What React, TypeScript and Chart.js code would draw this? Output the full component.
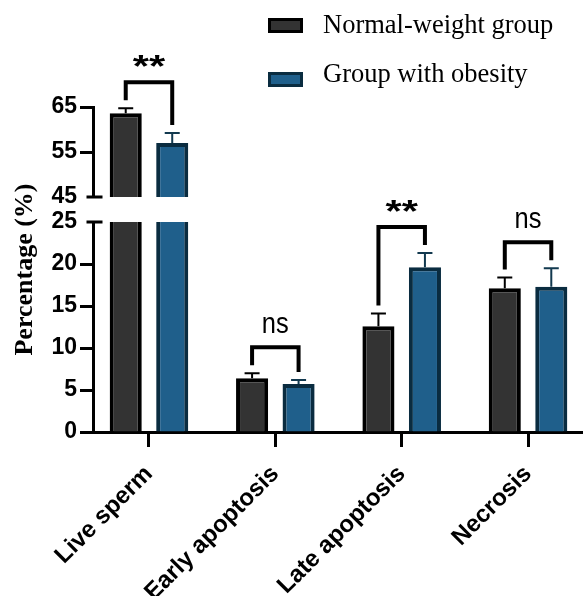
import React, { useEffect, useRef } from 'react';
import { Chart, registerables } from 'chart.js';

Chart.register(...registerables);

// ---------------- data ----------------
const categories = ['Live sperm', 'Early apoptosis', 'Late apoptosis', 'Necrosis'];
const seriesNames = ['Normal-weight group', 'Group with obesity'];
const normalMean = [63.6, 6.4, 12.6, 17.1];
const normalSd = [1.1, 0.6, 1.5, 1.3];
const obeseMean = [57.0, 5.7, 19.6, 17.3];
const obeseSd = [2.2, 0.5, 1.7, 2.2];
const significance = ['**', 'ns', '**', 'ns'];
const lowerRange = [0, 25];
const upperRange = [45, 65];
const lowerStep = 5;
const upperStep = 10;

// ---------------- styles ----------------
const FILL = ['#333333', '#1f5f8b'];
const BORDER = ['#000000', '#0a2c40'];
const ERR = ['#000000', '#12394f'];
const SANS = "'Liberation Sans', Arial, sans-serif";
const SERIF = "'Liberation Serif', 'Times New Roman', serif";
const W = 583;
const H = 596;
const AXIS_X = 93;
const AXIS_BOTTOM = 432;
const PLOT_TOP = 107;

const means = [normalMean, obeseMean];
const sds = [normalSd, obeseSd];
const stacks = ['n', 'o'];

const overlayPlugin = {
  id: 'overlay',
  afterDatasetsDraw(chart: any) {
    const ctx = chart.ctx as CanvasRenderingContext2D;
    const yLow = chart.scales.yLow;
    const yHigh = chart.scales.yHigh;
    const pix = (v: number) => (v > lowerRange[1] ? yHigh.getPixelForValue(v) : yLow.getPixelForValue(v));
    const metas = [chart.getDatasetMeta(0), chart.getDatasetMeta(1)];

    // error bars
    ctx.save();
    ctx.lineWidth = 2;
    for (let g = 0; g < 2; g++) {
      for (let i = 0; i < categories.length; i++) {
        const el = metas[g].data[i];
        if (!el) continue;
        const x = el.x;
        const y0 = pix(means[g][i]);
        const y1 = pix(means[g][i] + sds[g][i]);
        ctx.strokeStyle = ERR[g];
        ctx.beginPath();
        ctx.moveTo(x, y0);
        ctx.lineTo(x, y1);
        ctx.moveTo(x - 7.5, y1);
        ctx.lineTo(x + 7.5, y1);
        ctx.stroke();
      }
    }
    ctx.restore();

    // significance brackets
    ctx.save();
    for (let i = 0; i < categories.length; i++) {
      const e1 = metas[0].data[i];
      const e2 = metas[1].data[i];
      if (!e1 || !e2) continue;
      const x1 = e1.x;
      const x2 = e2.x;
      const t1 = pix(normalMean[i] + normalSd[i]);
      const t2 = pix(obeseMean[i] + obeseSd[i]);
      const h = Math.min(t1, t2) - 26;
      ctx.strokeStyle = '#000';
      ctx.lineWidth = 4;
      ctx.lineJoin = 'miter';
      ctx.lineCap = 'butt';
      ctx.beginPath();
      ctx.moveTo(x1, t1 - 8);
      ctx.lineTo(x1, h);
      ctx.lineTo(x2, h);
      ctx.lineTo(x2, t2 - 8);
      ctx.stroke();
      const cx = (x1 + x2) / 2;
      const label = significance[i];
      ctx.fillStyle = '#000';
      ctx.textAlign = 'center';
      if (label === 'ns') {
        ctx.save();
        ctx.translate(cx, h - 2 - 12);
        ctx.scale(0.85, 1);
        ctx.font = `30px ${SANS}`;
        ctx.textBaseline = 'alphabetic';
        ctx.fillText(label, 0, 0);
        ctx.restore();
      } else {
        ctx.save();
        ctx.translate(cx, h - 2 - 19);
        ctx.scale(1.3, 1);
        ctx.font = `bold 32px ${SANS}`;
        ctx.textBaseline = 'middle';
        const m = ctx.measureText(label);
        const asc = m.actualBoundingBoxAscent;
        const desc = m.actualBoundingBoxDescent;
        ctx.fillText(label, 0, (asc - desc) / 2);
        ctx.restore();
      }
    }
    ctx.restore();
  },
  afterDraw(chart: any) {
    const ctx = chart.ctx as CanvasRenderingContext2D;
    const yLow = chart.scales.yLow;
    const yHigh = chart.scales.yHigh;
    const ax = chart.chartArea.left + 1.5;

    // break caps on the y axis
    ctx.save();
    ctx.strokeStyle = '#000';
    ctx.lineWidth = 3;
    ctx.beginPath();
    const yb1 = yHigh.getPixelForValue(upperRange[0]);
    const yb2 = yLow.getPixelForValue(lowerRange[1]);
    ctx.moveTo(ax - 8, yb1);
    ctx.lineTo(ax + 8, yb1);
    ctx.moveTo(ax - 8, yb2);
    ctx.lineTo(ax + 8, yb2);
    ctx.stroke();
    ctx.restore();

    // y axis title
    ctx.save();
    ctx.translate(25, (chart.chartArea.top + chart.chartArea.bottom) / 2);
    ctx.rotate(-Math.PI / 2);
    ctx.font = `bold 26px ${SERIF}`;
    ctx.fillStyle = '#000';
    ctx.textAlign = 'center';
    ctx.textBaseline = 'middle';
    ctx.fillText('Percentage (%)', 0, 0);
    ctx.restore();

    // legend
    ctx.save();
    const rows = [18, 72];
    for (let g = 0; g < 2; g++) {
      const y = rows[g];
      ctx.fillStyle = BORDER[g];
      ctx.fillRect(268, y, 35, 15);
      ctx.fillStyle = FILL[g];
      ctx.fillRect(271, y + 3, 29, 9);
      ctx.fillStyle = '#000';
      ctx.font = `26.5px ${SERIF}`;
      ctx.textAlign = 'left';
      ctx.textBaseline = 'alphabetic';
      ctx.fillText(seriesNames[g], 323, g === 0 ? 33 : 82);
    }
    ctx.restore();
  },
};

export default function App() {
  const ref = useRef<HTMLCanvasElement>(null);

  useEffect(() => {
    if (!ref.current) return;
    const lowerDatasets = means.map((m, g) => ({
      label: seriesNames[g],
      data: m.map((v, i) => ({ x: i, y: Math.min(v, lowerRange[1]) })),
      yAxisID: 'yLow',
      stack: stacks[g],
      backgroundColor: FILL[g],
      borderColor: BORDER[g],
      borderWidth: (c: any) =>
        m[c.dataIndex] > lowerRange[1] ? { left: 4, right: 4, top: 0, bottom: 0 } : 4,
      borderSkipped: 'start',
      categoryPercentage: 0.736,
      barPercentage: 0.69,
    }));
    const upperDatasets = means.map((m, g) => ({
      label: seriesNames[g] + ' upper',
      data: m
        .map((v, i) => (v > upperRange[0] ? { x: i, y: [upperRange[0], v] } : null))
        .filter((d) => d !== null),
      yAxisID: 'yHigh',
      stack: stacks[g],
      backgroundColor: FILL[g],
      borderColor: BORDER[g],
      borderWidth: 4,
      borderSkipped: 'start',
      categoryPercentage: 0.736,
      barPercentage: 0.69,
    }));

    const yTickCommon = {
      color: '#000',
      padding: 3,
      font: { family: SANS, size: 23, weight: 'bold' },
    };

    const chart = new Chart(ref.current, {
      type: 'bar',
      data: { datasets: [...lowerDatasets, ...upperDatasets] as any },
      options: {
        animation: false,
        responsive: true,
        maintainAspectRatio: false,
        layout: { padding: { top: PLOT_TOP, left: 0, right: 0, bottom: 0 } },
        plugins: { legend: { display: false }, tooltip: { enabled: false }, title: { display: false } },
        scales: {
          x: {
            type: 'linear',
            position: 'bottom',
            min: -0.443,
            max: 3.435,
            offset: false,
            ticks: {
              stepSize: 1,
              includeBounds: false,
              autoSkip: false,
              minRotation: 45,
              maxRotation: 45,
              padding: 13,
              color: '#000',
              font: { family: SANS, size: 24, weight: 'bold' },
              callback: (v: any) => categories[v] ?? '',
            },
            grid: {
              offset: false,
              drawOnChartArea: false,
              drawTicks: true,
              tickLength: 15,
              tickWidth: 3,
              tickColor: '#000',
            },
            border: { display: true, color: '#000', width: 3 },
            afterFit: (s: any) => {
              s.height = H - AXIS_BOTTOM;
            },
          },
          yLow: {
            type: 'linear',
            position: 'left',
            stack: 'y',
            stackWeight: 210,
            min: lowerRange[0],
            max: lowerRange[1],
            ticks: { ...yTickCommon, stepSize: lowerStep },
            grid: {
              drawOnChartArea: false,
              tickLength: 13,
              tickWidth: 3,
              tickColor: (c: any) => (c.tick && c.tick.value === lowerRange[1] ? 'rgba(0,0,0,0)' : '#000'),
            },
            border: { display: true, color: '#000', width: 3 },
            afterFit: (s: any) => {
              s.width = AXIS_X;
            },
          },
          yGap: {
            type: 'linear',
            position: 'left',
            stack: 'y',
            stackWeight: 25,
            min: 0,
            max: 1,
            display: false,
            afterFit: (s: any) => {
              s.width = AXIS_X;
            },
          },
          yHigh: {
            type: 'linear',
            position: 'left',
            stack: 'y',
            stackWeight: 90,
            min: upperRange[0],
            max: upperRange[1],
            ticks: { ...yTickCommon, stepSize: upperStep },
            grid: {
              drawOnChartArea: false,
              tickLength: 13,
              tickWidth: 3,
              tickColor: (c: any) => (c.tick && c.tick.value === upperRange[0] ? 'rgba(0,0,0,0)' : '#000'),
            },
            border: { display: true, color: '#000', width: 3 },
            afterFit: (s: any) => {
              s.width = AXIS_X;
            },
          },
        },
      } as any,
      plugins: [overlayPlugin],
    });
    return () => chart.destroy();
  }, []);

  return (
    <div style={{ position: 'fixed', left: 0, top: 0, width: W, height: H, background: '#fff' }}>
      <canvas ref={ref} />
    </div>
  );
}
